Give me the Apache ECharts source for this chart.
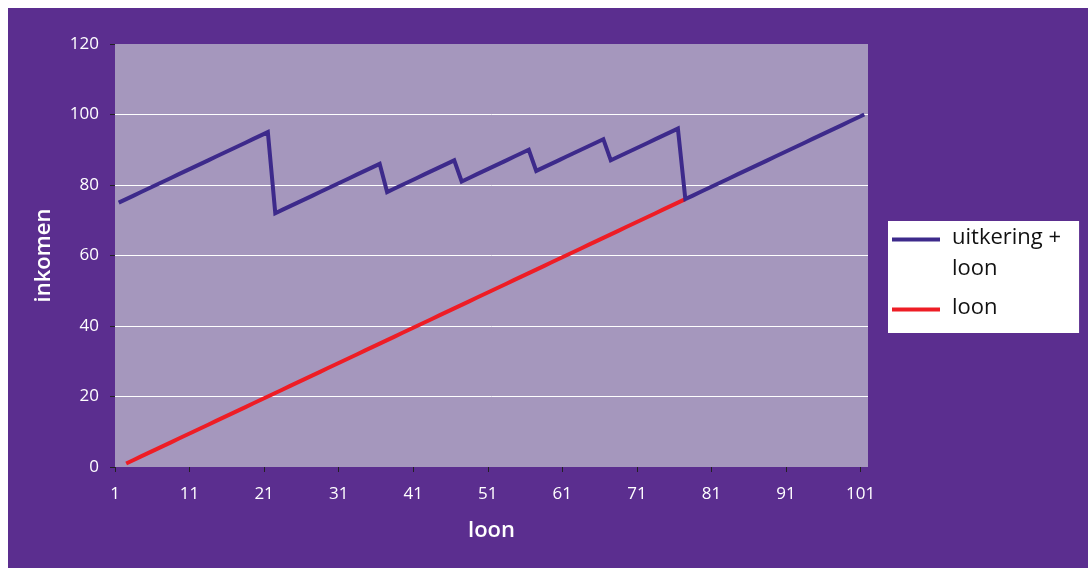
<!DOCTYPE html>
<html>
<head>
<meta charset="utf-8">
<script src="https://cdn.jsdelivr.net/npm/echarts@6/dist/echarts.min.js"></script>
<style>
  html, body { margin: 0; padding: 0; background: #ffffff; }
  #chart { position: absolute; left: 8px; top: 8px; width: 1080px; height: 560px; }
</style>
</head>
<body>
<div id="chart"></div>
<script>
// data categories (loon), plotted in the middle of each slot
const categories = [
  "1", "2", "3", "4", "5", "6", "7", "8", "9", "10",
  "11", "12", "13", "14", "15", "16", "17", "18", "19", "20",
  "21", "22", "23", "24", "25", "26", "27", "28", "29", "30",
  "31", "32", "33", "34", "35", "36", "37", "38", "39", "40",
  "41", "42", "43", "44", "45", "46", "47", "48", "49", "50",
  "51", "52", "53", "54", "55", "56", "57", "58", "59", "60",
  "61", "62", "63", "64", "65", "66", "67", "68", "69", "70",
  "71", "72", "73", "74", "75", "76", "77", "78", "79", "80",
  "81", "82", "83", "84", "85", "86", "87", "88", "89", "90",
  "91", "92", "93", "94", "95", "96", "97", "98", "99", "100",
  "101"
];

// tick labels sit on the slot boundaries (every 10th is shown)
const tickLabels = [
  "1", "2", "3", "4", "5", "6", "7", "8", "9", "10",
  "11", "12", "13", "14", "15", "16", "17", "18", "19", "20",
  "21", "22", "23", "24", "25", "26", "27", "28", "29", "30",
  "31", "32", "33", "34", "35", "36", "37", "38", "39", "40",
  "41", "42", "43", "44", "45", "46", "47", "48", "49", "50",
  "51", "52", "53", "54", "55", "56", "57", "58", "59", "60",
  "61", "62", "63", "64", "65", "66", "67", "68", "69", "70",
  "71", "72", "73", "74", "75", "76", "77", "78", "79", "80",
  "81", "82", "83", "84", "85", "86", "87", "88", "89", "90",
  "91", "92", "93", "94", "95", "96", "97", "98", "99", "100",
  "101", "102"
];

// uitkering + loon
const uitkeringLoon = [
  75, 76, 77, 78, 79, 80, 81, 82, 83, 84,
  85, 86, 87, 88, 89, 90, 91, 92, 93, 94,
  95, 72, 73, 74, 75, 76, 77, 78, 79, 80,
  81, 82, 83, 84, 85, 86, 78, 79, 80, 81,
  82, 83, 84, 85, 86, 87, 81, 82, 83, 84,
  85, 86, 87, 88, 89, 90, 84, 85, 86, 87,
  88, 89, 90, 91, 92, 93, 87, 88, 89, 90,
  91, 92, 93, 94, 95, 96, 76, 77, 78, 79,
  80, 81, 82, 83, 84, 85, 86, 87, 88, 89,
  90, 91, 92, 93, 94, 95, 96, 97, 98, 99,
  100
];

// loon
const loon = [
  null, 1, 2, 3, 4, 5, 6, 7, 8, 9,
  10, 11, 12, 13, 14, 15, 16, 17, 18, 19,
  20, 21, 22, 23, 24, 25, 26, 27, 28, 29,
  30, 31, 32, 33, 34, 35, 36, 37, 38, 39,
  40, 41, 42, 43, 44, 45, 46, 47, 48, 49,
  50, 51, 52, 53, 54, 55, 56, 57, 58, 59,
  60, 61, 62, 63, 64, 65, 66, 67, 68, 69,
  70, 71, 72, 73, 74, 75, 76, null, null, null,
  null, null, null, null, null, null, null, null, null, null,
  null, null, null, null, null, null, null, null, null, null,
  null
];

const font = "'Open Sans', 'Noto Sans', sans-serif";

const chart = echarts.init(document.getElementById("chart"));

const option = {
  backgroundColor: "#5b2e8f",
  textStyle: { fontFamily: font },
  animation: false,
  grid: {
    left: 107,
    top: 36,
    right: 220,
    bottom: 101,
    show: true,
    backgroundColor: "#a597bd",
    borderWidth: 0,
  },
  legend: {
    orient: "vertical",
    left: 880,
    top: 213,
    padding: [1, 18, 10, 4],
    backgroundColor: "#ffffff",
    itemWidth: 48,
    itemHeight: 31,
    itemGap: 8,
    itemStyle: { borderWidth: 0 },
    textStyle: {
      color: "#111111",
      fontSize: 22,
      lineHeight: 31,
      fontFamily: font,
      padding: [0, 0, 0, 7],
    },
    formatter: (name) => (name === "uitkering + loon" ? "uitkering +\nloon" : name),
    data: [
      { name: "uitkering + loon", icon: "path://M0,0H48V4H0Z M0,31L48,31" },
      { name: "loon", icon: "path://M0,0L48,0 M0,15.5H48V19.5H0Z M0,31L48,31" },
    ],
  },
  xAxis: [
    {
      // data axis, hidden
      type: "category",
      data: categories,
      boundaryGap: true,
      position: "bottom",
      show: false,
    },
    {
      // visible axis with labels on the boundaries
      type: "category",
      data: tickLabels,
      boundaryGap: false,
      position: "bottom",
      name: "loon",
      nameLocation: "middle",
      nameGap: 53,
      nameTextStyle: { color: "#ffffff", fontSize: 22, fontWeight: 600, fontFamily: font },
      axisLine: { show: false },
      axisTick: { show: true, interval: 9, length: 5, lineStyle: { color: "#222222" } },
      axisLabel: { interval: 9, color: "#ffffff", fontSize: 17, margin: 19, fontFamily: font },
      splitLine: { show: false },
    },
  ],
  yAxis: {
    type: "value",
    min: 0,
    max: 120,
    interval: 20,
    name: "inkomen",
    nameLocation: "middle",
    nameGap: 60,
    nameTextStyle: { color: "#ffffff", fontSize: 22, fontWeight: 600, fontFamily: font },
    axisLine: { show: false },
    axisTick: { show: true, length: 5, lineStyle: { color: "#222222" } },
    axisLabel: { color: "#ffffff", fontSize: 17, margin: 16, fontFamily: font },
    splitLine: {
      show: true,
      showMinLine: false,
      showMaxLine: false,
      lineStyle: { color: "#ffffff", width: 1 },
    },
  },
  series: [
    {
      name: "uitkering + loon",
      type: "line",
      xAxisIndex: 0,
      data: uitkeringLoon,
      symbol: "none",
      z: 3,
      lineStyle: { color: "#3d2a8b", width: 4, join: "miter", miterLimit: 3 },
      itemStyle: { color: "#3d2a8b" },
    },
    {
      name: "loon",
      type: "line",
      xAxisIndex: 0,
      data: loon,
      symbol: "none",
      z: 2,
      lineStyle: { color: "#ee1d25", width: 4, join: "miter", miterLimit: 3 },
      itemStyle: { color: "#ee1d25" },
    },
  ],
};

chart.setOption(option);
</script>
</body>
</html>
